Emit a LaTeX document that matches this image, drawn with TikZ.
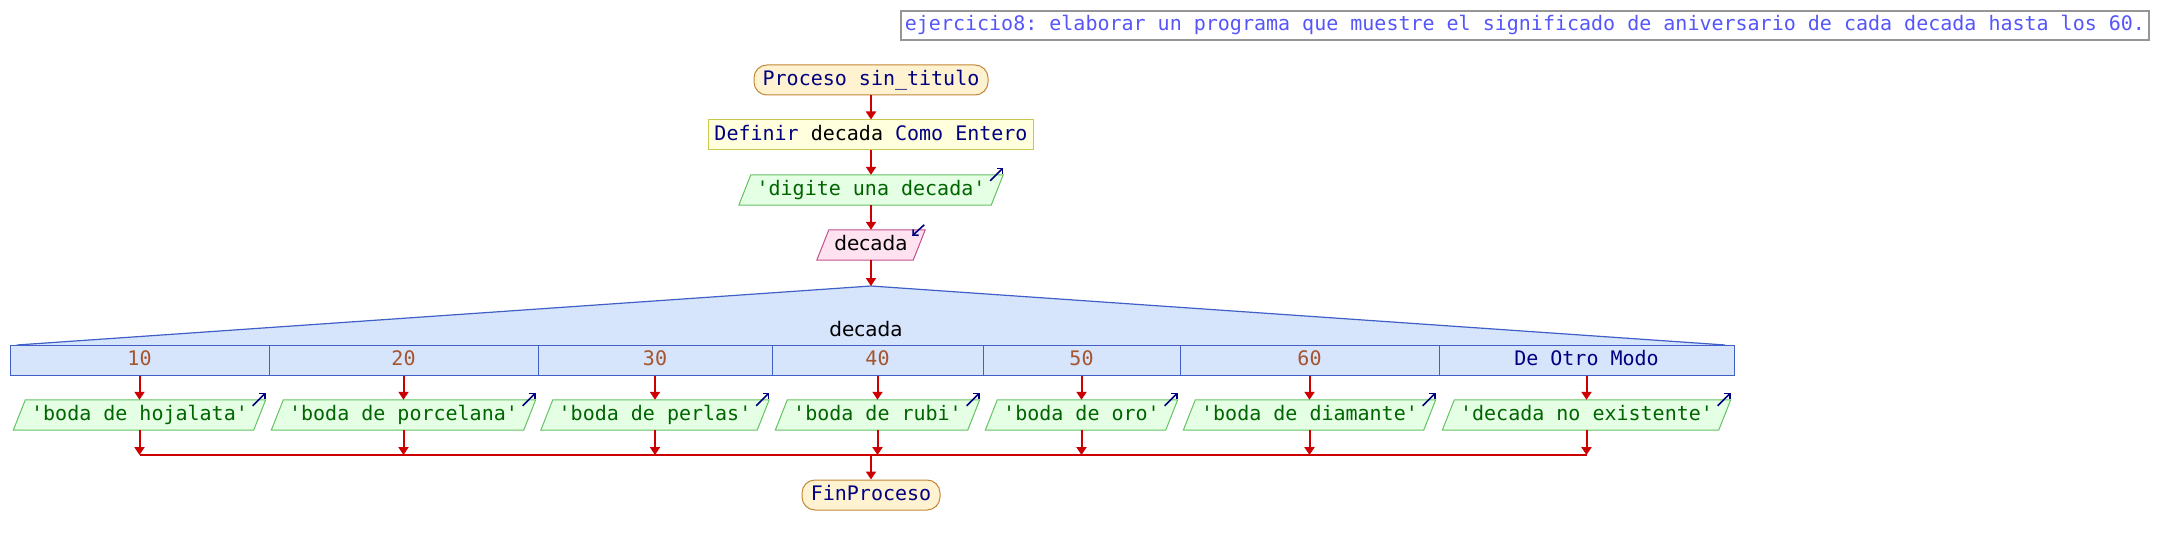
\documentclass[tikz,border=0pt]{standalone}
\usepackage{fontspec}
\setmainfont{DejaVu Sans}
\setsansfont{DejaVu Sans}
\setmonofont{DejaVu Sans Mono}
\usetikzlibrary{arrows.meta,backgrounds,calc}
\definecolor{kw}{RGB}{0,0,128}
\definecolor{numc}{RGB}{165,85,45}
\definecolor{outc}{RGB}{0,100,0}
\definecolor{titlec}{RGB}{85,85,250}
\definecolor{titledraw}{RGB}{150,150,150}
\definecolor{termfill}{RGB}{254,242,208}
\definecolor{termdraw}{RGB}{195,135,55}
\definecolor{deffill}{RGB}{255,255,221}
\definecolor{defdraw}{RGB}{200,200,80}
\definecolor{iofill}{RGB}{228,255,228}
\definecolor{iodraw}{RGB}{100,195,100}
\definecolor{infill}{RGB}{255,226,240}
\definecolor{indraw}{RGB}{195,80,140}
\definecolor{swfill}{RGB}{214,228,252}
\definecolor{swdraw}{RGB}{64,96,200}
\definecolor{flowred}{RGB}{204,0,0}
\begin{document}
\begin{tikzpicture}[x=1pt,y=-1pt,
  base/.style={font=\fontsize{20}{24}\selectfont\ttfamily, inner sep=0pt, text height=15pt, text depth=4pt, minimum height=30pt},
  term/.style={base, draw=termdraw, fill=termfill, rounded corners=13pt, line width=1pt, text=kw},
  defbox/.style={base, draw=defdraw, fill=deffill, line width=1pt},
  iotext/.style={base, text=outc},
  intext/.style={base, font=\fontsize{20}{24}\selectfont\sffamily, text=black},
  cell/.style={base, draw=swdraw, fill=swfill, line width=1pt},
  iopoly/.style={draw=iodraw, fill=iofill, line width=1pt},
  inpoly/.style={draw=indraw, fill=infill, line width=1pt},
  flow/.style={draw=flowred, line width=2pt, -{Triangle[length=8pt,width=10pt]}},
  flowline/.style={draw=flowred, line width=2pt},
  icon/.style={draw=kw, line width=1.6pt, -{Straight Barb[length=4pt,width=8pt]}}
]
\useasboundingbox (0,0) rectangle (2159,545);

% title
\node[base, draw=titledraw, line width=1.3pt, text=titlec, minimum width=1248pt, minimum height=29pt] (title) at (1525,25.5) {ejercicio8: elaborar un programa que muestre el significado de aniversario de cada decada hasta los 60.};

% main column
\node[term, minimum width=234pt] (start) at (871,80) {Proceso sin\_titulo};
\node[defbox, minimum width=325pt] (def) at (871,135) {\textcolor{kw}{Definir} decada \textcolor{kw}{Como Entero}};
\node[iotext, minimum width=252pt] (dig) at (871,190) {'digite una decada'};
\node[intext, minimum width=96pt] (inp) at (871,245) {decada};
\coordinate (apex) at (871,286);

% switch row
\node[cell, minimum width=259pt, text=numc] (c1) at (139.5,360) {10};
\node[cell, minimum width=269pt, text=numc] (c2) at (403.5,360) {20};
\node[cell, minimum width=234pt, text=numc] (c3) at (655,360) {30};
\node[cell, minimum width=211pt, text=numc] (c4) at (877.5,360) {40};
\node[cell, minimum width=197pt, text=numc] (c5) at (1081.5,360) {50};
\node[cell, minimum width=259pt, text=numc] (c6) at (1309.5,360) {60};
\node[cell, minimum width=295pt, text=kw] (c7) at (1586.5,360) {De Otro Modo};
\node[intext] (swlabel) at (866,331) {decada};

% outputs
\node[iotext, minimum width=240pt] (o1) at (139.5,415) {'boda de hojalata'};
\node[iotext, minimum width=252pt] (o2) at (403.5,415) {'boda de porcelana'};
\node[iotext, minimum width=216pt] (o3) at (655,415) {'boda de perlas'};
\node[iotext, minimum width=192pt] (o4) at (877.5,415) {'boda de rubi'};
\node[iotext, minimum width=180pt] (o5) at (1081.5,415) {'boda de oro'};
\node[iotext, minimum width=240pt] (o6) at (1309.5,415) {'boda de diamante'};
\node[iotext, minimum width=276pt] (o7) at (1586.5,415) {'decada no existente'};

\node[term, minimum width=138pt] (fin) at (871,495) {FinProceso};

% backgrounds: parallelograms and switch triangle
\begin{scope}[on background layer]
  \fill[swfill] (12,345) -- (apex) -- (1730,345) -- cycle;
  \draw[swdraw, line width=1.2pt] (17,345) -- (apex) -- (1725,345);
  \foreach \n in {dig,o1,o2,o3,o4,o5,o6,o7} {
    \draw[iopoly] ($(\n.south west)+(-6,0)$) -- ($(\n.south east)+(-6,0)$) -- ($(\n.north east)+(6,0)$) -- ($(\n.north west)+(6,0)$) -- cycle;
  }
  \draw[inpoly] ($(inp.south west)+(-6,0)$) -- ($(inp.south east)+(-6,0)$) -- ($(inp.north east)+(6,0)$) -- ($(inp.north west)+(6,0)$) -- cycle;
\end{scope}

% icons
\foreach \n in {dig,o1,o2,o3,o4,o5,o6,o7} {
  \coordinate (\n tr) at ($(\n.north east)+(6,0)$);
  \draw[icon] ($(\n tr)+(-13,6)$) -- ($(\n tr)+(0,-7)$);
}
\coordinate (inptr) at ($(inp.north east)+(6,0)$);
\draw[icon] ($(inptr)+(-1,-5)$) -- ($(inptr)+(-13,6)$);

% flow
\draw[flow] (start) -- (def);
\draw[flow] (def) -- (dig);
\draw[flow] (dig) -- (inp);
\draw[flow] (inp) -- (apex);
\foreach \i in {1,...,7} {
  \draw[flow] (c\i.south) -- (o\i.north);
  \coordinate (m\i) at (c\i.south |- 0,455);
  \draw[flow] (o\i.south) -- (m\i);
}
\draw[flowline] (m1) -- (m7);
\coordinate (mc) at (871,455);
\draw[flow] (mc) -- (fin);
\end{tikzpicture}
\end{document}
